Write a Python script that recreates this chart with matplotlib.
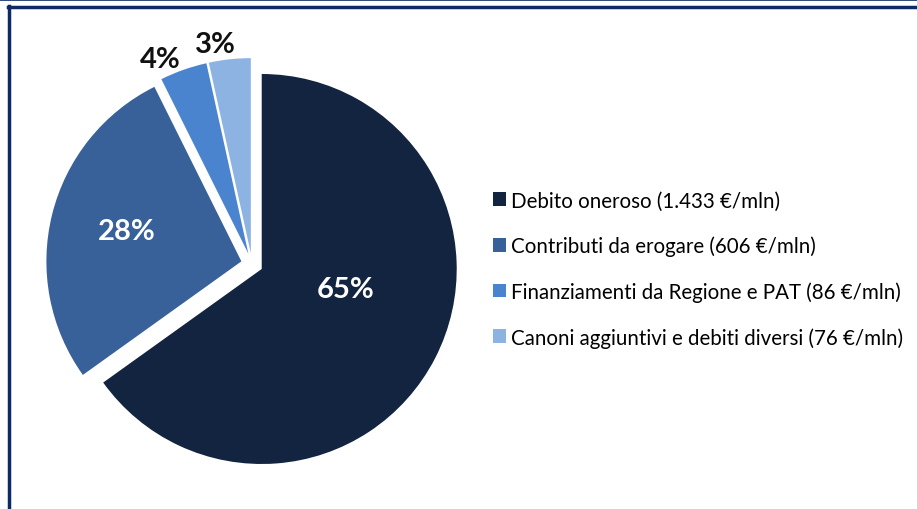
import matplotlib.pyplot as plt
from matplotlib.lines import Line2D

labels = ["Debito oneroso (1.433 €/mln)",
          "Contributi da erogare (606 €/mln)",
          "Finanziamenti da Regione e PAT (86 €/mln)",
          "Canoni aggiuntivi e debiti diversi (76 €/mln)"]
values = [1433, 606, 86, 76]
pct_text = ["65%", "28%", "4%", "3%"]
colors = ["#12243f", "#38619a", "#4a84cf", "#8db3e2"]

plt.rcParams['font.family'] = ['Lato', 'DejaVu Sans']

W, H = 917, 510
fig = plt.figure(figsize=(W / 100, H / 100), dpi=100)

# pie centre (px) and radius
cx, cy, R = 252, 265, 195
lim = 1.25
half = lim * R
ax = fig.add_axes([(cx - half) / W, (H - cy - half) / H, 2 * half / W, 2 * half / H])

wedges, _ = ax.pie(values, colors=colors, startangle=90, counterclock=False,
                   explode=[0.056] * 4, radius=1.0,
                   wedgeprops=dict(linewidth=0))
ax.set_xlim(-lim, lim)
ax.set_ylim(-lim, lim)
ax.set_aspect('equal')
ax.axis('off')

# label positions (data units) and colours
lab_pos = [(0.48, -0.13), (-0.64, 0.17), (-0.47, 1.05), (-0.19, 1.13)]
lab_col = ["white", "white", "#111111", "#111111"]
for t, (x, y), c in zip(pct_text, lab_pos, lab_col):
    ax.text(x, y, t, ha='center', va='center', fontsize=21, fontweight='bold',
            color=c, clip_on=False)

fig.legend(wedges, labels, loc='center left', bbox_to_anchor=(493 / W, 1 - 270 / H),
           frameon=False, fontsize=14.8, handlelength=0.65, handleheight=0.65,
           handletextpad=0.25, labelspacing=1.22, borderpad=0, borderaxespad=0)

# frame lines
navy = "#0b2a66"
fig.add_artist(Line2D([0, 1], [1 - 1 / H, 1 - 1 / H], color=navy, lw=1.2, transform=fig.transFigure))
fig.add_artist(Line2D([8 / W, 1], [1 - 8 / H, 1 - 8 / H], color=navy, lw=2.5, transform=fig.transFigure))
fig.add_artist(Line2D([8.5 / W, 8.5 / W], [0, 1 - 7 / H], color=navy, lw=2.5, transform=fig.transFigure))

fig.savefig("out.png", dpi=100, facecolor="white")
